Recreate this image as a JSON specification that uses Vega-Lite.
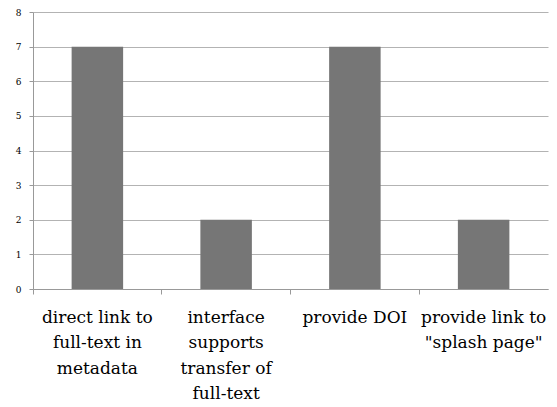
{
  "$schema": "https://vega.github.io/schema/vega-lite/v6.json",
  "width": 515,
  "height": 277,
  "autosize": {"type": "none"},
  "padding": {"left": 33, "top": 12, "right": 9, "bottom": 118},
  "background": "white",
  "data": {"values": [
    {"category": "direct link to|full-text in|metadata", "count": 7},
    {"category": "interface|supports|transfer of|full-text", "count": 2},
    {"category": "provide DOI", "count": 7},
    {"category": "provide link to|\"splash page\"", "count": 2}
  ]},
  "mark": {"type": "bar", "color": "#767676", "width": {"band": 0.4}},
  "encoding": {
    "x": {
      "field": "category", "type": "nominal", "sort": null,
      "scale": {"paddingInner": 0, "paddingOuter": 0},
      "axis": {
        "title": null, "labelAngle": 0,
        "labelExpr": "split(datum.value, '|')",
        "labelFont": "DejaVu Serif", "labelFontSize": 17, "labelLineHeight": 25.5,
        "labelColor": "black", "labelPadding": 15, "labelLimit": 0,
        "labelBaseline": "top",
        "bandPosition": 0, "tickSize": 5, "tickColor": "#999999",
        "domainColor": "#999999", "grid": false
      }
    },
    "y": {
      "field": "count", "type": "quantitative",
      "scale": {"domain": [0, 8]},
      "axis": {
        "title": null, "values": [0,1,2,3,4,5,6,7,8], "labelOverlap": false,
        "labelFont": "DejaVu Serif", "labelFontSize": 9, "labelColor": "black",
        "tickSize": 4, "tickColor": "#999999", "domainColor": "#999999",
        "gridColor": "#b3b3b3", "labelPadding": 8
      }
    }
  },
  "config": {"view": {"stroke": null}}
}
